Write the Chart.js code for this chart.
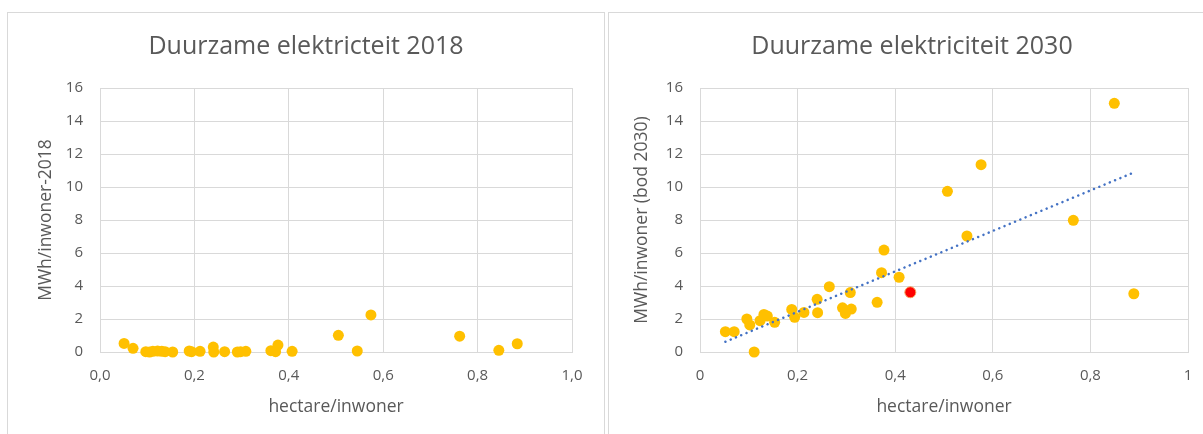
<!DOCTYPE html>
<html>
<head>
<meta charset="utf-8">
<script src="https://cdn.jsdelivr.net/npm/chart.js@4.4.1/dist/chart.umd.min.js"></script>
<style>
  html, body { margin: 0; padding: 0; background: #fff; overflow: hidden; width: 1203px; height: 434px; position: relative; }
  .box { position: absolute; border: 1px solid #d9d9d9; background: #fff; }
  canvas { position: absolute; }
</style>
</head>
<body>
<div class="box" style="left:7px; top:12px; width:596px; height:500px;"></div>
<div class="box" style="left:608px; top:12px; width:700px; height:500px;"></div>
<canvas id="c2018" style="left:8px; top:13px;" width="596" height="421"></canvas>
<canvas id="c2030" style="left:609px; top:13px;" width="606" height="421"></canvas>
<script>
// ---- Data ----
const titles = ['Duurzame elektricteit 2018', 'Duurzame elektriciteit 2030'];
const xAxisTitle = 'hectare/inwoner';
const yAxisTitles = ['MWh/inwoner-2018', 'MWh/inwoner (bod 2030)'];

const xTicks2018 = ['0,0', '0,2', '0,4', '0,6', '0,8', '1,0'];
const xTicks2030 = ['0', '0,2', '0,4', '0,6', '0,8', '1'];
const yTicks = ['0', '2', '4', '6', '8', '10', '12', '14', '16'];

const hectare2018 = [0.051, 0.070, 0.097, 0.105, 0.112, 0.122, 0.131, 0.138, 0.154, 0.189, 0.194, 0.212,
  0.240, 0.241, 0.264, 0.291, 0.298, 0.309, 0.362, 0.372, 0.377, 0.407, 0.505, 0.545, 0.574, 0.762, 0.845, 0.884];
const mwh2018 = [0.52, 0.22, 0.02, 0.00, 0.04, 0.06, 0.04, 0.02, 0.00, 0.06, 0.02, 0.04,
  0.30, 0.00, 0.02, 0.00, 0.02, 0.04, 0.08, 0.02, 0.42, 0.04, 1.01, 0.06, 2.25, 0.96, 0.10, 0.50];

const hectare2030 = [0.052, 0.070, 0.096, 0.102, 0.111, 0.123, 0.131, 0.138, 0.153, 0.188, 0.194, 0.213,
  0.240, 0.241, 0.265, 0.292, 0.298, 0.310, 0.308, 0.363, 0.372, 0.377, 0.408, 0.507, 0.547, 0.576, 0.765, 0.849, 0.889];
const mwh2030 = [1.23, 1.23, 2.00, 1.64, 0.00, 1.90, 2.28, 2.18, 1.80, 2.58, 2.10, 2.40,
  3.19, 2.38, 3.96, 2.68, 2.34, 2.60, 3.60, 3.01, 4.81, 6.18, 4.53, 9.74, 7.03, 11.35, 7.98, 15.07, 3.53];

const highlightX = [0.431];
const highlightY = [3.62];

// dotted trendline end points
const trendX = [0.052, 0.889];
const trendY = [0.62, 10.88];

// ---- Helpers ----
const pts = (xs, ys) => xs.map((x, i) => ({ x: x, y: ys[i] }));
const TXT = '#595959';
const GRID = '#d9d9d9';
const FONT = 'Open Sans';

function makeOptions(titleText, yTitle, xTickLabels, yAxisWidth, yTitleOffset, rightSpace) {
  return {
    responsive: false,
    animation: false,
    layout: { padding: 0 },
    plugins: {
      legend: { display: false },
      tooltip: { enabled: false },
      title: {
        display: true,
        text: titleText,
        color: TXT,
        font: { family: FONT, size: 25, weight: 'normal', lineHeight: 1.2 },
        padding: { top: 19, bottom: 26 }
      }
    },
    scales: {
      x: {
        type: 'linear',
        min: 0, max: 1,
        afterBuildTicks: (s) => { s.ticks = xTickLabels.map((_, i) => ({ value: i * 0.2 })); },
        afterFit: (s) => { s.height = 82; },
        ticks: {
          callback: (v, i) => xTickLabels[i],
          color: TXT, padding: 15,
          font: { family: FONT, size: 15, lineHeight: 1.2 },
          maxRotation: 0, autoSkip: false
        },
        grid: { color: GRID, lineWidth: 1, drawTicks: false },
        border: { color: GRID, width: 1 },
        title: {
          display: true, text: xAxisTitle, color: TXT,
          font: { family: FONT, size: 17.5, lineHeight: 1.2 },
          padding: { top: 0, bottom: 16.5 }
        }
      },
      y: {
        type: 'linear',
        min: 0, max: 16,
        afterBuildTicks: (s) => { s.ticks = yTicks.map((_, i) => ({ value: i * 2 })); },
        afterFit: (s) => { s.width = yAxisWidth; },
        ticks: {
          callback: (v, i) => yTicks[i],
          color: TXT, padding: 17,
          font: { family: FONT, size: 15, lineHeight: 1.2 }
        },
        grid: { color: GRID, lineWidth: 1, drawTicks: false },
        border: { color: GRID, width: 1 },
        title: {
          display: true, text: yTitle, color: TXT,
          font: { family: FONT, size: 17.5, lineHeight: 1.2 },
          padding: { top: yTitleOffset, bottom: 0 }
        }
      },
      // empty spacer on the right so the title stays centred on the whole chart box
      spacer: {
        type: 'linear',
        axis: 'y',
        position: 'right',
        min: 0, max: 16,
        afterFit: (s) => { s.width = rightSpace; },
        ticks: { display: false },
        grid: { display: false, drawOnChartArea: false, drawTicks: false },
        border: { display: false },
        title: { display: false }
      }
    }
  };
}

const pointStyle = {
  pointRadius: 5.5,
  pointHoverRadius: 5.5,
  pointBorderWidth: 0,
  clip: false
};

// Left chart 2018
new Chart(document.getElementById('c2018'), {
  type: 'scatter',
  data: {
    datasets: [{
      data: pts(hectare2018, mwh2018),
      backgroundColor: '#FFC000',
      borderColor: '#FFC000',
      ...pointStyle
    }]
  },
  options: makeOptions(titles[0], yAxisTitles[0], xTicks2018, 92, 27.5, 32)
});

// Right chart 2030
new Chart(document.getElementById('c2030'), {
  type: 'scatter',
  data: {
    datasets: [
      {
        type: 'line',
        data: pts(trendX, trendY),
        borderColor: '#4472C4',
        borderWidth: 2.5,
        borderDash: [0.1, 5.6],
        borderCapStyle: 'round',
        pointRadius: 0,
        fill: false,
        showLine: true,
        order: 0,
        clip: false
      },
      {
        data: pts(highlightX, highlightY),
        backgroundColor: '#FF0000',
        borderColor: '#F5A05A',
        ...pointStyle,
        pointBorderWidth: 1,
        order: 1
      },
      {
        data: pts(hectare2030, mwh2030),
        backgroundColor: '#FFC000',
        borderColor: '#FFC000',
        ...pointStyle,
        order: 2
      }
    ]
  },
  options: makeOptions(titles[1], yAxisTitles[1], xTicks2030, 91, 22.5, 27)
});
</script>
</body>
</html>
